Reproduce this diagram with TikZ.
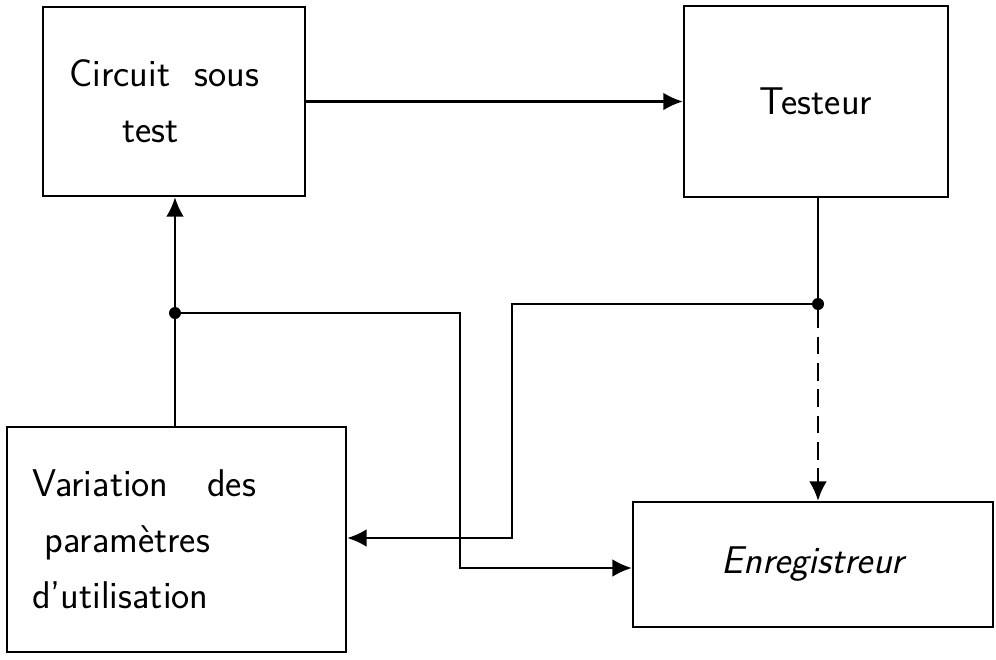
\documentclass[tikz,border=0pt]{standalone}
\usepackage{fontspec}
\usepackage{tikz}
\usetikzlibrary{
  arrows.meta,
  positioning,
  calc
}
\tikzset{
  % Block: plain box, thick outline
  bloc/.style={
    rectangle, draw=black, line width=1.4pt,
    minimum width=#1, inner sep=0pt,
    font=\sffamily\fontsize{22}{32}\selectfont
  },
  % Arrow
  arr/.style={
    -{Latex[length=11pt,width=10pt]},
    line width=1.3pt
  },
  % Junction dot
  pt/.style={circle, fill=black, inner sep=0pt, minimum size=0.24cm}
}

\begin{document}
\begin{tikzpicture}[x=0.02cm, y=-0.02cm]
  \useasboundingbox (0,0) rectangle (996,659);

  \node[bloc=5.24cm, minimum height=3.78cm, align=left] (circ) at (174,101.5)
    {Circuit\ \ sous\\\hspace*{1.05cm}test\hspace*{2cm}};
  \node[bloc=5.28cm, minimum height=3.82cm] (test) at (816,101.5) {Testeur};
  \node[bloc=6.78cm, minimum height=4.5cm, text width=5.78cm, inner xsep=0.5cm,
        align=left] (var) at (176.5,539.5)
    {Variation\ \ \ des\\\hspace*{0.25cm}paramètres\\d'utilisation};
  \node[bloc=7.2cm, minimum height=2.5cm, font=\sffamily\slshape\fontsize{22}{32}\selectfont]
    (enr) at (813,564.5) {Enregistreur};

  \node[pt] (j1) at (175,313) {};
  \node[pt] (j2) at (818,304) {};
  \coordinate (c1) at (460,313);
  \coordinate (c2) at (460,568);
  \coordinate (c3) at (512,304);
  \coordinate (c4) at (512,538);

  \draw[arr] (circ.east) -- (test.west);
  \draw[arr] (var.north -| j1) -- (circ.south -| j1);
  \draw[line width=1.3pt] (test.south -| j2) -- (j2);
  \draw[arr] (j1) -- (c1) -- (c2) -- (enr.west |- c2);
  \draw[arr] (j2) -- (c3) -- (c4) -- (var.east |- c4);
  \draw[arr, dashed, dash pattern=on 10pt off 5pt] (j2) -- (enr.north -| j2);
\end{tikzpicture}
\end{document}
